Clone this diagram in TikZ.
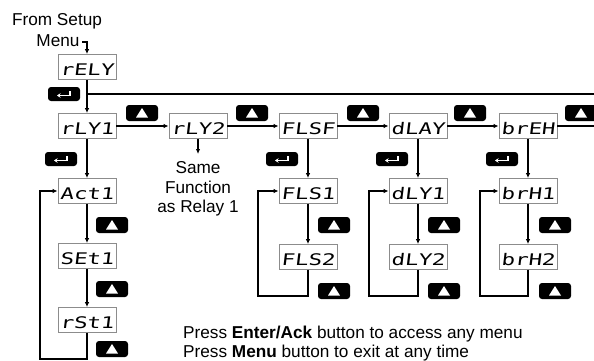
\documentclass[tikz,border=0pt]{standalone}
\usepackage{fontspec}
\setmainfont{Liberation Sans}
\newfontfamily\segfont[FakeStretch=1.4,FakeSlant=0.12]{DejaVu Sans Mono}
\usetikzlibrary{arrows.meta,calc}
\begin{document}
\begin{tikzpicture}[x=1pt,y=-1pt,
  disp/.style={draw=black!45, line width=0.8pt, minimum width=58pt, minimum height=25pt, inner sep=0pt, font=\segfont\fontsize{16}{16}\selectfont, text height=17pt, text depth=0pt},
  line/.style={line width=1.1pt},
  arr/.style={line, -{Latex[length=5pt,width=4.5pt]}},
  upbtn/.style={fill=black, rounded corners=3pt, minimum width=32pt, minimum height=16pt, inner sep=0pt, path picture={\fill[white, sharp corners] ($(path picture bounding box.center)+(-6pt,-4.5pt)$) -- ++(12pt,0pt) -- ++(-6pt,9.5pt) -- cycle;}},
  entbtn/.style={fill=black, rounded corners=3pt, minimum width=32pt, minimum height=14pt, inner sep=0pt, path picture={\draw[white, sharp corners, line width=1.3pt, -{Stealth[length=3.5pt,width=4.5pt]}] ($(path picture bounding box.center)+(6pt,3pt)$) -- ++(0pt,-4.5pt) -- ++(-13pt,0pt);}},
  lbl/.style={font=\fontsize{17.2}{19}\selectfont, inner sep=0pt, anchor=base}
]
\useasboundingbox (0,0) rectangle (594,360);

% displays
\node[disp] (rely) at (87,67) {rELY};
\node[disp] (rly1) at (87,126) {rLY1};
\node[disp] (rly2) at (198,126) {rLY2};
\node[disp] (flsf) at (308,126) {FLSF};
\node[disp] (dlay) at (418,126) {dLAY};
\node[disp] (breh) at (528,126) {brEH};
\node[disp] (act1) at (87,191) {Act1};
\node[disp] (set1) at (87,256) {SEt1};
\node[disp] (rst1) at (87,320) {rSt1};
\node[disp] (fls1) at (308,191) {FLS1};
\node[disp] (fls2) at (308,257) {FLS2};
\node[disp] (dly1) at (418,191) {dLY1};
\node[disp] (dly2) at (418,257) {dLY2};
\node[disp] (brh1) at (528,191) {brH1};
\node[disp] (brh2) at (528,257) {brH2};

% enter buttons
\node[entbtn] (e0) at (64,94) {};
\node[entbtn] (e1) at (61,159) {};
\node[entbtn] (e2) at (282,159) {};
\node[entbtn] (e3) at (392,159) {};
\node[entbtn] (e4) at (502,159) {};

% up buttons
\node[upbtn] (u1) at (142,113) {};
\node[upbtn] (u2) at (252,113) {};
\node[upbtn] (u3) at (363,113) {};
\node[upbtn] (u4) at (470,113) {};
\node[upbtn] (u5) at (581,113) {};
\node[upbtn] (ua1) at (112,225) {};
\node[upbtn] (ua2) at (112,289) {};
\node[upbtn] (ua3) at (112,349) {};
\node[upbtn] (uf1) at (334,225) {};
\node[upbtn] (uf2) at (334,291) {};
\node[upbtn] (ud1) at (444,225) {};
\node[upbtn] (ud2) at (444,291) {};
\node[upbtn] (ub1) at (555,225) {};
\node[upbtn] (ub2) at (555,291) {};

% texts
\node[lbl] (from) at (57,25) {From Setup};
\node[lbl] (menu) at (58,46) {Menu};
\node[lbl] (same) at (198,173) {Same};
\node[lbl] (func) at (198,193) {Function};
\node[lbl] (asr) at (198,212) {as Relay 1};
\node[lbl, anchor=base west] (note1) at (183,338) {Press \textbf{Enter/Ack} button to access any menu};
\node[lbl, anchor=base west] (note2) at (183,357) {Press \textbf{Menu} button to exit at any time};

% coordinates
\coordinate (mstart) at (82,42);
\coordinate (j) at (87,94);
\coordinate (topR) at (594,94);
\coordinate (midR) at (594,126);
\coordinate (sametip) at (198,154);
\coordinate (lb1) at (87,359);
\coordinate (lb2) at (40,359);
\coordinate (fb) at (258,296);
\coordinate (db) at (369,296);
\coordinate (bb) at (480,296);

% connectors
\draw[arr] (mstart) -| (rely.north);
\draw[arr] (rely.south) -- (rly1.north);
\draw[line] (j) -- (topR);
\draw[arr] (rly1) -- (rly2);
\draw[arr] (rly2) -- (flsf);
\draw[arr] (flsf) -- (dlay);
\draw[arr] (dlay) -- (breh);
\draw[line] (breh.east) -- (midR);
\draw[arr] (rly2.south) -- (sametip);

\draw[arr] (rly1) -- (act1);
\draw[arr] (act1) -- (set1);
\draw[arr] (set1) -- (rst1);
\draw[arr] (rst1.south) -- (lb1) -- (lb2) |- (act1.west);

\draw[arr] (flsf) -- (fls1);
\draw[arr] (fls1) -- (fls2);
\draw[arr] (fls2.south) |- (fb) |- (fls1.west);

\draw[arr] (dlay) -- (dly1);
\draw[arr] (dly1) -- (dly2);
\draw[arr] (dly2.south) |- (db) |- (dly1.west);

\draw[arr] (breh) -- (brh1);
\draw[arr] (brh1) -- (brh2);
\draw[arr] (brh2.south) |- (bb) |- (brh1.west);
\end{tikzpicture}
\end{document}
